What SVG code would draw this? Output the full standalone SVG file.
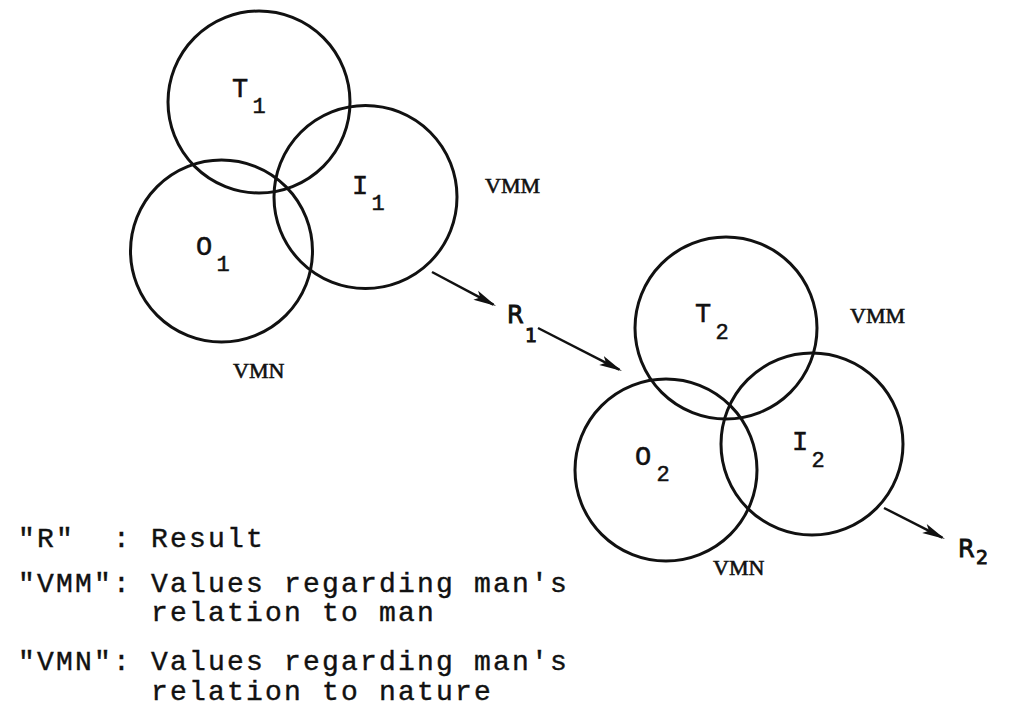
<svg xmlns="http://www.w3.org/2000/svg" width="1011" height="711" viewBox="0 0 1011 711">
  <style>
    .ring { fill: none; stroke: #111; stroke-width: 3; }
    .flow { fill: none; stroke: #111; stroke-width: 2.5; }
    .sym { font-family: "Liberation Mono", "DejaVu Sans Mono", monospace; font-size: 27px; fill: #111; stroke: #111; stroke-width: 0.5; text-anchor: middle; }
    .sub { font-family: "Liberation Mono", "DejaVu Sans Mono", monospace; font-size: 22px; fill: #111; stroke: #111; stroke-width: 0.5; text-anchor: middle; }
    .val { font-family: "Liberation Serif", "DejaVu Serif", serif; font-size: 22px; fill: #111; stroke: #111; stroke-width: 0.6; }
    .hand { font-family: "DejaVu Sans", "Liberation Sans", sans-serif; fill: #111; stroke: #111; stroke-width: 0.9; }
    .key { font-family: "Liberation Mono", "DejaVu Sans Mono", monospace; font-size: 28px; letter-spacing: 2.2px; fill: #111; stroke: #111; stroke-width: 0.4; }
  </style>
  <defs>
    <marker id="head" markerUnits="userSpaceOnUse" viewBox="0 -6 24 12" refX="20" refY="0" markerWidth="24" markerHeight="12" orient="auto">
      <path d="M0,-5 L23,0 L0,5 L5,0 Z" fill="#111"/>
    </marker>
  </defs>

  <rect width="1011" height="711" fill="#fff"/>

  <!-- first value system -->
  <g id="T1">
    <circle class="ring" cx="259" cy="102" r="91"/>
    <text class="sym" x="240" y="97">T</text>
    <text class="sub" x="259" y="113">1</text>
  </g>
  <g id="I1">
    <circle class="ring" cx="365.5" cy="197" r="91.5"/>
    <text class="sym" x="360" y="194">I</text>
    <text class="sub" x="378" y="210">1</text>
  </g>
  <g id="O1">
    <circle class="ring" cx="221.5" cy="251" r="91"/>
    <text class="sym" x="204" y="255">O</text>
    <text class="sub" x="223" y="271">1</text>
  </g>
  <g id="VMM1"><text class="val" x="485" y="193">VMM</text></g>
  <g id="VMN1"><text class="val" x="233" y="378">VMN</text></g>

  <!-- second value system -->
  <g id="T2">
    <circle class="ring" cx="726" cy="328" r="91"/>
    <text class="sym" x="703" y="322">T</text>
    <text class="sub" x="722" y="339">2</text>
  </g>
  <g id="O2">
    <circle class="ring" cx="666" cy="470" r="91"/>
    <text class="sym" x="643" y="465">O</text>
    <text class="sub" x="663" y="481">2</text>
  </g>
  <g id="I2">
    <circle class="ring" cx="812" cy="444" r="91"/>
    <text class="sym" x="800" y="450">I</text>
    <text class="sub" x="818" y="467">2</text>
  </g>
  <g id="VMM2"><text class="val" x="850" y="323">VMM</text></g>
  <g id="VMN2"><text class="val" x="713" y="575">VMN</text></g>

  <!-- results -->
  <g id="R1">
    <text class="hand" x="507" y="323" font-size="24">R</text>
    <text class="hand" x="525" y="342" font-size="19">1</text>
  </g>
  <g id="R2">
    <text class="hand" x="958" y="557" font-size="24">R</text>
    <text class="hand" x="976" y="564" font-size="19">2</text>
  </g>

  <!-- connectors -->
  <g id="connectors">
    <line class="flow" x1="432" y1="272" x2="493.4" y2="304.6" marker-end="url(#head)"/>
    <line class="flow" x1="538" y1="328" x2="619.3" y2="369.6" marker-end="url(#head)"/>
    <line class="flow" x1="884" y1="508" x2="942.3" y2="537.6" marker-end="url(#head)"/>
  </g>

  <!-- key -->
  <g id="legend">
    <text class="key" x="18" y="547">"R"</text>
    <text class="key" x="113" y="547">:</text>
    <text class="key" x="151" y="547">Result</text>
    <text class="key" x="18" y="592">"VMM":</text>
    <text class="key" x="151" y="592">Values regarding man's</text>
    <text class="key" x="151" y="621">relation to man</text>
    <text class="key" x="18" y="670">"VMN":</text>
    <text class="key" x="151" y="670">Values regarding man's</text>
    <text class="key" x="151" y="700">relation to nature</text>
  </g>
</svg>
